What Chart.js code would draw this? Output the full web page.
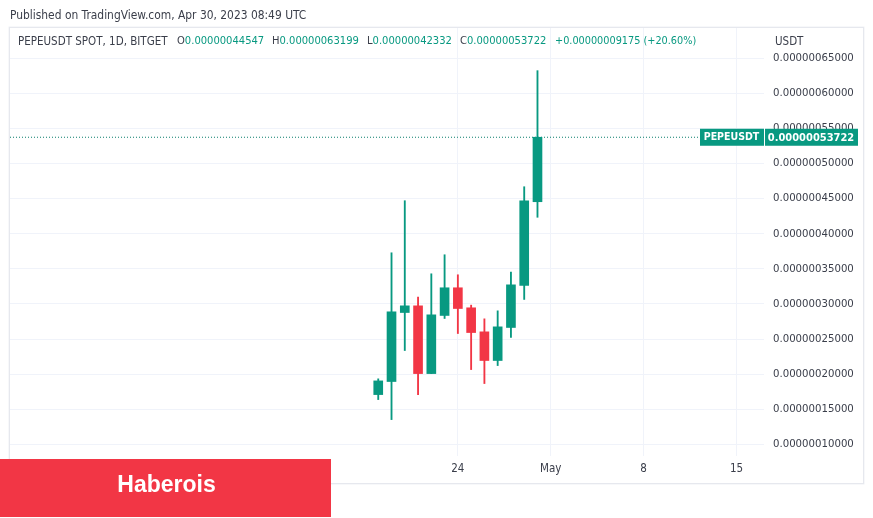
<!DOCTYPE html>
<html><head><meta charset="utf-8">
<script src="https://cdn.jsdelivr.net/npm/chart.js@4"></script>
<style>
html,body{margin:0;padding:0;background:#fff;width:873px;height:518px;overflow:hidden}
#wrap{position:relative;width:873px;height:518px}
canvas{position:absolute;left:0;top:0}
.t{position:absolute;white-space:nowrap;font:11.1px "DejaVu Sans Condensed","DejaVu Sans",sans-serif;color:#3a3e4a;line-height:14px}
.g{color:#089981}
#frame{position:absolute;left:9px;top:27px;width:853px;height:455px;border:1px solid #e6e8ee;box-shadow:0 0 0 .5px #eef0f4}
#banner{position:absolute;left:1px;top:459px;width:331px;height:58px;color:#fff;font:bold 23px "Liberation Sans",Arial,sans-serif;line-height:50px;text-align:center}
#bannerbg{position:absolute;left:0;top:459px;width:331px;height:58px;background:#f23645}
</style></head>
<body><div id="wrap">
<div id="frame"></div>
<canvas id="c" width="873" height="518"></canvas>
<div class="t" style="left:10px;top:8px;font-size:11.9px">Published on TradingView.com, Apr 30, 2023 08:49 UTC</div>
<div class="t" style="left:18px;top:34px;font-size:11.5px">PEPEUSDT SPOT, 1D, BITGET</div>
<div class="t" style="left:177px;top:34px">O<span class="g">0.00000044547</span></div>
<div class="t" style="left:272px;top:34px">H<span class="g">0.00000063199</span></div>
<div class="t" style="left:367px;top:34px">L<span class="g">0.00000042332</span></div>
<div class="t" style="left:460px;top:34px">C<span class="g">0.00000053722</span></div>
<div class="t g" style="left:555px;top:34px;font-size:10.8px">+0.00000009175 (+20.60%)</div>
<div class="t" style="left:775px;top:34px;font-size:11.5px">USDT</div>
<div id="bannerbg"></div>
<div id="banner">Haberois</div>
</div>
<script>
const days   = [18,19,20,21,22,23,24,25,26,27,28,29,30];
const opens  = [17.10e-8,18.96e-8,28.78e-8,29.73e-8,20.09e-8,28.36e-8,32.30e-8,29.45e-8,26.03e-8,21.95e-8,26.65e-8,32.63e-8,44.547e-8];
const highs  = [19.34e-8,37.28e-8,44.69e-8,30.97e-8,34.29e-8,37.00e-8,34.15e-8,29.83e-8,27.88e-8,29.02e-8,34.53e-8,46.68e-8,63.199e-8];
const lows   = [16.39e-8,13.54e-8,23.37e-8,17.10e-8,20.09e-8,27.93e-8,25.79e-8,20.66e-8,18.67e-8,21.23e-8,25.22e-8,30.64e-8,42.332e-8];
const closes = [19.05e-8,28.88e-8,29.73e-8,20.09e-8,28.45e-8,32.30e-8,29.35e-8,25.93e-8,21.95e-8,26.74e-8,32.72e-8,44.69e-8,53.722e-8];
const xTickDays   = [24,31,38,45];
const xTickLabels = ['24','May','8','15'];
const yTicks = [10e-8,15e-8,20e-8,25e-8,30e-8,35e-8,40e-8,45e-8,50e-8,55e-8,60e-8,65e-8];
const symbol = 'PEPEUSDT';

const UP='#089981', DOWN='#f23645', GRID='#f0f3fa', TXT='#3a3e4a';
const FONT='"DejaVu Sans Condensed","DejaVu Sans",sans-serif';
const colors = opens.map((o,i)=>closes[i]>=o?UP:DOWN);
const last = closes[closes.length-1];
const xMin=-9.75, xMax=47.07;

const priceTag = {
  id:'priceTag',
  afterDraw(chart){
    const c=chart.ctx, y=chart.scales.y.getPixelForValue(last);
    c.save();
    c.fillStyle=UP;
    c.fillRect(700,y-8.5,64,17);
    c.fillRect(765,y-8.5,93,17);
    c.fillStyle='#fff';
    c.textBaseline='middle';
    c.textAlign='center';
    c.font='bold 10.5px '+FONT;
    c.fillText(symbol,731.5,y+0.5);
    c.font='bold 11px '+FONT;
    c.fillText(last.toFixed(11),811,y+0.5);
    c.restore();
  }
};

new Chart(document.getElementById('c'),{
  type:'bar',
  data:{datasets:[
    {type:'line',data:[{x:xMin,y:last},{x:xMax,y:last}],borderColor:'#0b7f6c',borderWidth:1,borderDash:[1,2],pointRadius:0,order:3},
    {data:days.map((d,i)=>({x:d,y:[lows[i],highs[i]]})),backgroundColor:colors,barThickness:1.2,grouped:false,order:2},
    {data:days.map((d,i)=>({x:d,y:[opens[i],closes[i]]})),backgroundColor:colors,barThickness:9,grouped:false,order:1}
  ]},
  options:{
    responsive:false,animation:false,
    layout:{padding:{left:10,top:28,right:0,bottom:0}},
    plugins:{legend:{display:false},tooltip:{enabled:false}},
    scales:{
      x:{type:'linear',offset:false,min:xMin,max:xMax,
        afterBuildTicks(s){s.ticks=xTickDays.map(v=>({value:v}));},
        afterFit(s){s.height=62;},
        grid:{color:GRID,drawTicks:false,offset:false},border:{display:false},
        ticks:{autoSkip:false,maxRotation:0,padding:6,color:TXT,font:{family:FONT,size:11.5},
          callback:v=>xTickLabels[xTickDays.indexOf(v)]}},
      y:{type:'linear',position:'right',min:8.36e-8,max:69.27e-8,
        afterBuildTicks(s){s.ticks=yTicks.map(v=>({value:v}));},
        afterFit(s){s.width=109;},
        grid:{color:GRID,drawTicks:false},border:{display:false},
        ticks:{autoSkip:false,padding:9,crossAlign:'near',color:TXT,font:{family:FONT,size:11.3},
          callback:v=>v.toFixed(11)}}
    }
  },
  plugins:[priceTag]
});
</script>
</body></html>
